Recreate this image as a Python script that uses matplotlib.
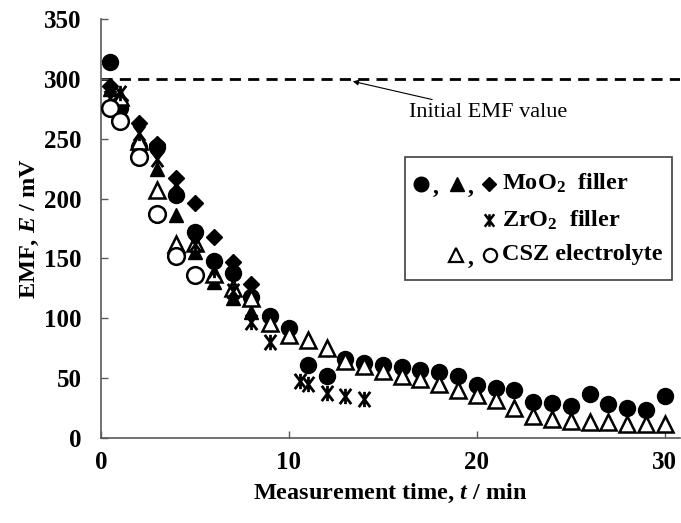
import matplotlib
matplotlib.use('Agg')
import matplotlib.pyplot as plt
from matplotlib.path import Path
import numpy as np

plt.rcParams.update({
    'font.family': ['Liberation Serif', 'DejaVu Sans'],
    'font.weight': 'bold',
    'axes.labelweight': 'bold',
    'mathtext.fontset': 'custom',
    'mathtext.rm': 'Liberation Serif:bold',
    'mathtext.it': 'Liberation Serif:bold:italic',
    'mathtext.bf': 'Liberation Serif:bold',
})

# MoO2 filler, three cells (filled circle / triangle / diamond)
t_circ = [0.5, 1, 2, 3, 4, 5, 6, 7, 8, 9, 10, 11, 12, 13, 14, 15, 16, 17, 18,
          19, 20, 21, 22, 23, 24, 25, 26, 27, 28, 29, 30]
E_circ = [314, 276, 243, 243, 203, 172, 148, 138, 118, 102, 92, 61, 52, 66, 63,
          61, 59, 57, 55, 52, 44, 42, 40, 30, 29, 27, 37, 28, 25, 23, 35]
t_tri = [0.5, 1, 2, 3, 4, 5, 6, 7, 8, 9]
E_tri = [292, 270, 245, 225, 186, 155, 130, 117, 105, 95]
t_dia = [0.5, 1, 2, 3, 4, 5, 6, 7, 8, 9]
E_dia = [294, 282, 263, 246, 217, 196, 168, 147, 129, 101]

# ZrO2 filler
t_zr = [0.5, 1, 2, 3, 4, 5, 6, 7, 8, 9, 10.6, 11.0, 12, 13, 14]
E_zr = [284, 288, 255, 233, 212, 162, 140, 123, 97, 80, 48, 45, 38, 35, 33]

# CSZ electrolyte (open triangle / open circle)
t_otri = [1, 2, 3, 4, 5, 6, 7, 8, 9, 10, 11, 12, 13, 14, 15, 16, 17, 18, 19,
          20, 21, 22, 23, 24, 25, 26, 27, 28, 29, 30]
E_otri = [285, 248, 207, 162, 163, 137, 125, 117, 96, 86, 82, 75, 64, 60, 56,
          52, 49, 45, 40, 36, 32, 25, 18, 16, 14, 13, 13, 12, 12, 12]
t_ocirc = [0.5, 1, 2, 3, 4, 5]
E_ocirc = [276, 265, 235, 187, 152, 136]

E_initial = 300

# asterisk-like marker: vertical bar crossed by an X
star_path = Path([(0, -1), (0, 1), (-0.75, -1), (0.75, 1), (-0.75, 1), (0.75, -1)],
                 [Path.MOVETO, Path.LINETO, Path.MOVETO, Path.LINETO,
                  Path.MOVETO, Path.LINETO])

fig = plt.figure(figsize=(6.81, 5.23), dpi=100)
ax = fig.add_axes([0.1483, 0.1625, 0.850, 0.801])

ax.axhline(E_initial, color='black', lw=2, ls=(0, (4, 2.6)), zorder=1)

ax.plot(t_circ, E_circ, 'o', color='black', ms=11.5, zorder=2)
ax.plot(t_tri, E_tri, '^', color='black', ms=10.5, zorder=3)
ax.plot(t_dia, E_dia, 'D', color='black', ms=8, zorder=4)
ax.plot(t_otri, E_otri, '^', mfc='white', mec='black', mew=1.8, ms=11, zorder=5)
ax.plot(t_zr, E_zr, ls='none', marker=star_path, mec='black', mew=2, ms=11, zorder=6)
ax.plot(t_ocirc, E_ocirc, 'o', mfc='white', mec='black', mew=1.8, ms=12, zorder=7)

ax.annotate('Initial EMF value', xy=(13.4, 298), xytext=(16.4, 272),
            fontsize=16, fontweight='normal', va='center', ha='left',
            arrowprops=dict(arrowstyle='-|>', color='black', lw=0.8,
                            mutation_scale=8, shrinkA=2, shrinkB=0))

# text legend in a box
ax.add_patch(plt.Rectangle((0.525, 0.378), 0.462, 0.292, transform=ax.transAxes,
                           fill=False, edgecolor='#404040', lw=1.2, clip_on=False))
kw = dict(transform=ax.transAxes, ls='none', clip_on=False)
ax.plot([0.553], [0.607], 'o', color='black', ms=10.5, **kw)
ax.plot([0.615], [0.607], '^', color='black', ms=9.5, **kw)
ax.plot([0.670], [0.607], 'D', color='black', ms=7, **kw)
ax.plot([0.670], [0.520], marker=star_path, mec='black', mew=1.8, ms=9, **kw)
ax.plot([0.614], [0.437], '^', mfc='white', mec='black', mew=1.6, ms=9.5, **kw)
ax.plot([0.672], [0.437], 'o', mfc='white', mec='black', mew=1.6, ms=9.5, **kw)
ax.text(0.573, 0.598, ',', transform=ax.transAxes, fontsize=17, va='center')
ax.text(0.634, 0.598, ',', transform=ax.transAxes, fontsize=17, va='center')
ax.text(0.634, 0.428, ',', transform=ax.transAxes, fontsize=17, va='center')
ax.text(0.692, 0.607, r'MoO$_2$  filler', transform=ax.transAxes, fontsize=17.5, va='center')
ax.text(0.692, 0.520, r'ZrO$_2$  filler', transform=ax.transAxes, fontsize=17.5, va='center')
ax.text(0.692, 0.437, 'CSZ electrolyte', transform=ax.transAxes, fontsize=17.5, va='center')

ax.set_xlim(0, 30.8)
ax.set_ylim(0, 350)
ax.set_xticks([0, 10, 20, 30])
ax.set_yticks(np.arange(0, 351, 50))
ax.tick_params(direction='in', length=5, width=1, color='#595959', labelsize=18)
ax.tick_params(axis='y', pad=14)
ax.tick_params(axis='x', pad=9)
for side in ['top', 'right']:
    ax.spines[side].set_visible(False)
for side in ['left', 'bottom']:
    ax.spines[side].set_color('#595959')
    ax.spines[side].set_linewidth(1.2)

ax.set_xlabel(r'Measurement time, $t$ / min', fontsize=17.5, labelpad=6)
ax.set_ylabel(r'EMF, $E$ / mV', fontsize=17.5, labelpad=2)

fig.savefig('out.png', dpi=100)
